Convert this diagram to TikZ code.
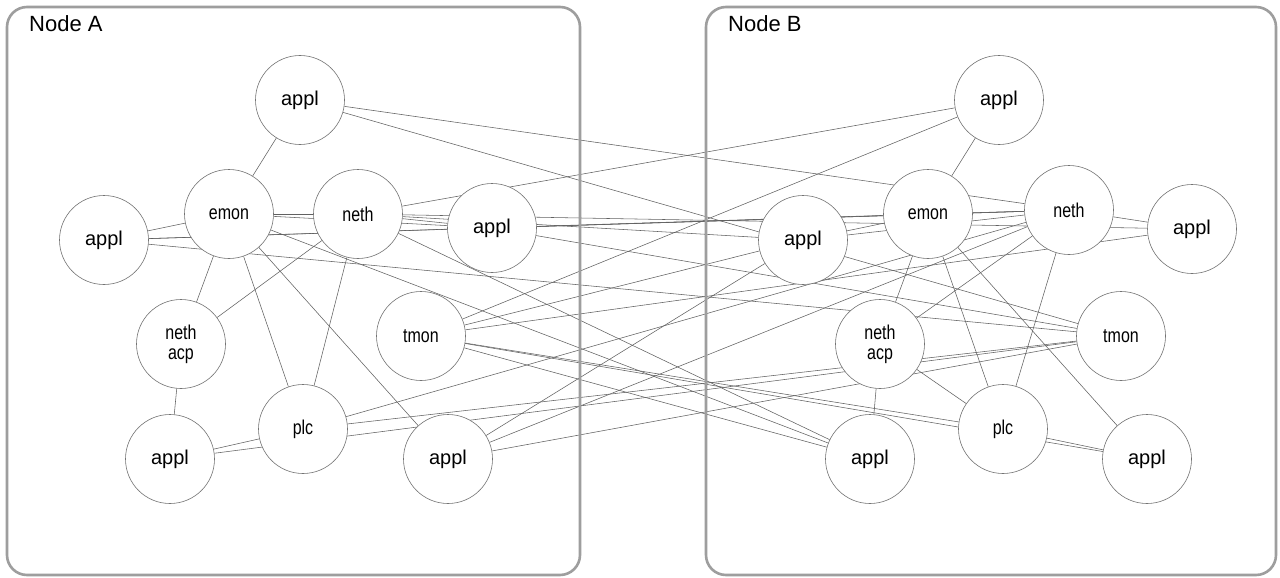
\documentclass[tikz,border=0pt]{standalone}
\usepackage{fontspec}
\usepackage{graphicx}
\setmainfont{Liberation Sans}
\pgfdeclarelayer{bgl}
\pgfdeclarelayer{edges}
\pgfsetlayers{bgl,edges,main}
\newcommand{\nl}[1]{\scalebox{0.8}[1]{#1}}
\newcommand{\al}[1]{\scalebox{1.0}[1]{#1}}
\begin{document}
\begin{tikzpicture}[x=1pt,y=-1pt,
  cnode/.style={circle,draw=black!55,fill=white,line width=0.6pt,minimum size=89pt,inner sep=0pt,font=\fontsize{20}{21}\selectfont,align=center},
  edge/.style={draw=black!62,line width=0.55pt},
  boxst/.style={draw=black!38,line width=2.6pt,rounded corners=20pt},
  ttl/.style={anchor=base west,inner sep=0pt,font=\fontsize{22}{24}\selectfont}]
\begin{pgfonlayer}{bgl}
\fill[white] (0,0) rectangle (1280,578);
\end{pgfonlayer}
\useasboundingbox (0,0) rectangle (1280,578);
\draw[boxst] (7,7) rectangle (580,575);
\draw[boxst] (706,7) rectangle (1276,575);
\node[ttl] (tA) at (29,32) {Node A};
\node[ttl] (tB) at (728,32) {Node B};
% Node A
\node[cnode] (AaT) at (300,100) {\al{appl}};
\node[cnode] (Aem) at (229,214) {\nl{emon}};
\node[cnode] (Ane) at (358,214) {\nl{neth}};
\node[cnode] (AaL) at (104,240) {\al{appl}};
\node[cnode] (AaM) at (492,228) {\al{appl}};
\node[cnode] (Aacp) at (181,344) {\nl{neth}\\[-1pt]\nl{acp}};
\node[cnode] (Atm) at (421,336) {\nl{tmon}};
\node[cnode] (AaBL) at (170,459) {\al{appl}};
\node[cnode] (Aplc) at (303,429) {\nl{plc}};
\node[cnode] (AaB) at (448,459) {\al{appl}};
% Node B
\node[cnode] (BaT) at (999,100) {\al{appl}};
\node[cnode] (Bem) at (928,214) {\nl{emon}};
\node[cnode] (Bne) at (1069,210) {\nl{neth}};
\node[cnode] (BaR) at (1192,229) {\al{appl}};
\node[cnode] (BaL) at (803,240) {\al{appl}};
\node[cnode] (Bacp) at (880,344) {\nl{neth}\\[-1pt]\nl{acp}};
\node[cnode] (Btm) at (1121,336) {\nl{tmon}};
\node[cnode] (Bplc) at (1003,429) {\nl{plc}};
\node[cnode] (BaBL) at (870,459) {\al{appl}};
\node[cnode] (BaBR) at (1147,459) {\al{appl}};
\begin{pgfonlayer}{edges}
\foreach \a/\b in {AaT/Aem,AaL/Aem,Aem/Ane,Aem/AaM,Aem/Aacp,Aem/Aplc,Aem/AaB,Ane/Aacp,Ane/Aplc,Ane/AaM,Aacp/AaBL,AaBL/Aplc,
  BaT/Bem,BaL/Bem,Bem/Bne,Bem/Bacp,Bem/Bplc,Bem/BaBR,Bne/BaR,Bne/Bacp,Bne/Bplc,Bacp/BaBL,Bacp/Bplc,Bplc/BaBR,BaL/Bne,
  AaT/Bne,AaT/Btm,AaL/Bne,AaL/Bem,AaL/Btm,AaM/Bne,AaM/Btm,Ane/BaT,Ane/BaR,Ane/BaBL,Ane/BaL,Aem/BaBL,
  Atm/BaT,Atm/BaL,Atm/BaR,Atm/BaBL,Atm/BaBR,Atm/Bplc,Aplc/Btm,Aplc/Bne,AaBL/Btm,AaB/Btm,AaB/Bne,AaB/BaL}
  \draw[edge] (\a) -- (\b);
\end{pgfonlayer}
\end{tikzpicture}
\end{document}
